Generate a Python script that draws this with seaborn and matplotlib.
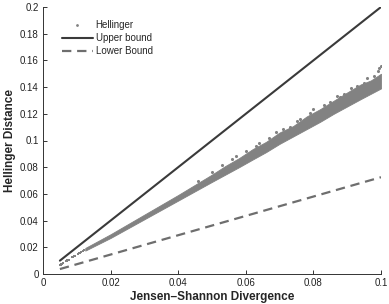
import matplotlib
matplotlib.use("Agg")
import matplotlib.pyplot as plt
import seaborn as sns
from matplotlib.lines import Line2D

# ---- data ----
upper_x = [0.005, 0.1]
upper_y = [0.010, 0.200]

lower_x = [0.005, 0.1]
lower_y = [0.0037, 0.0725]

# dense Hellinger band (lower / upper edge of the point cloud)
band_x = [0.0125, 0.02, 0.03, 0.04, 0.05, 0.054, 0.058, 0.062, 0.066, 0.070,
          0.074, 0.078, 0.082, 0.086, 0.090, 0.094, 0.097, 0.1]
band_lo = [0.0175, 0.0270, 0.0410, 0.0550, 0.0690, 0.0745, 0.0800, 0.0857, 0.0913, 0.0975,
           0.1030, 0.1085, 0.1140, 0.1200, 0.1255, 0.1310, 0.1350, 0.1390]
band_hi = [0.0195, 0.0298, 0.0445, 0.0592, 0.0745, 0.0810, 0.0868, 0.0935, 0.0990, 0.1060,
           0.1108, 0.1180, 0.1235, 0.1298, 0.1360, 0.1420, 0.1450, 0.1500]

# sparse Hellinger points at small divergence
sparse_x = [0.0050, 0.0052, 0.0054, 0.0056, 0.0058,
            0.0068, 0.0070, 0.0072, 0.0074, 0.0076,
            0.0086, 0.0088, 0.0090, 0.0092, 0.0094,
            0.0104, 0.0106, 0.0108, 0.0110, 0.0112, 0.0118, 0.0122]
sparse_y = [0.0068, 0.0071, 0.0074, 0.0077, 0.0080,
            0.0096, 0.0099, 0.0102, 0.0105, 0.0108,
            0.0124, 0.0127, 0.0130, 0.0133, 0.0136,
            0.0152, 0.0155, 0.0158, 0.0161, 0.0164, 0.0173, 0.0180]

# scattered outlier points just above the band
fringe_x = [0.046, 0.050, 0.053, 0.056, 0.057, 0.060, 0.063, 0.064, 0.067, 0.069,
            0.071, 0.073, 0.075, 0.076, 0.079, 0.080, 0.083, 0.085, 0.087, 0.088,
            0.089, 0.091, 0.093, 0.095, 0.096, 0.098, 0.099, 0.0995, 0.1]
fringe_y = [0.0700, 0.0762, 0.0815, 0.0860, 0.0885, 0.0925, 0.0960, 0.0985, 0.1020, 0.1060,
            0.1085, 0.1100, 0.1145, 0.1160, 0.1205, 0.1235, 0.1265, 0.1285, 0.1330, 0.1325,
            0.1350, 0.1390, 0.1410, 0.1430, 0.1465, 0.1480, 0.1520, 0.1540, 0.1555]

xticks = [0, 0.02, 0.04, 0.06, 0.08, 0.1]
xtick_labels = ["0", "0.02", "0.04", "0.06", "0.08", "0.1"]
yticks = [0, 0.02, 0.04, 0.06, 0.08, 0.1, 0.12, 0.14, 0.16, 0.18, 0.2]
ytick_labels = ["0", "0.02", "0.04", "0.06", "0.08", "0.1", "0.12", "0.14", "0.16", "0.18", "0.2"]

sns.set_style("ticks")
plt.rcParams["font.family"] = ["Liberation Sans", "DejaVu Sans"]
plt.rcParams["xtick.direction"] = "in"
plt.rcParams["ytick.direction"] = "in"

fig = plt.figure(figsize=(3.89, 3.04), dpi=100)
ax = fig.add_axes([43 / 389, 1 - 274 / 304, (381 - 43) / 389, (274 - 7) / 304])

grey = "#828282"
ax.fill_between(band_x, band_lo, band_hi, color=grey, linewidth=0.6, edgecolor=grey, zorder=2)
sns.scatterplot(x=sparse_x, y=sparse_y, ax=ax, color=grey, s=4, marker="s",
                linewidth=0, zorder=2)
sns.scatterplot(x=fringe_x, y=fringe_y, ax=ax, color=grey, s=5, marker="o",
                linewidth=0, zorder=2)

sns.lineplot(x=upper_x, y=upper_y, ax=ax, color="#3a3a3a", linewidth=1.5, zorder=3)
sns.lineplot(x=lower_x, y=lower_y, ax=ax, color="#6e6e6e", linewidth=1.6,
             dashes=False, zorder=3)
ax.lines[-1].set_dashes((4.2, 2.6))

ax.set_xlim(0, 0.1)
ax.set_ylim(0, 0.2)
ax.set_xticks(xticks)
ax.set_xticklabels(xtick_labels)
ax.set_yticks(yticks)
ax.set_yticklabels(ytick_labels)
ax.tick_params(labelsize=7, length=3, width=0.7, colors="#333333", labelcolor="#222222", pad=3)
for s in ["left", "bottom"]:
    ax.spines[s].set_linewidth(0.7)
    ax.spines[s].set_color("#333333")
sns.despine(ax=ax)

ax.set_xlabel("Jensen–Shannon Divergence", fontsize=8.5, fontweight="bold", labelpad=2)
ax.set_ylabel("Hellinger Distance", fontsize=8.5, fontweight="bold", labelpad=3)

handles = [
    Line2D([], [], color=grey, marker=".", markersize=2, linestyle="None"),
    Line2D([], [], color="#3a3a3a", linewidth=1.5),
    Line2D([], [], color="#6e6e6e", linewidth=1.6, dashes=(4.2, 2.6)),
]
ax.legend(handles, ["Hellinger", "Upper bound", "Lower Bound"], loc="upper left",
          bbox_to_anchor=(0.035, 0.975), frameon=False, fontsize=7, handlelength=3.2,
          handletextpad=0.3, labelspacing=0.3, borderpad=0.2)

fig.savefig("out.png", dpi=100)
